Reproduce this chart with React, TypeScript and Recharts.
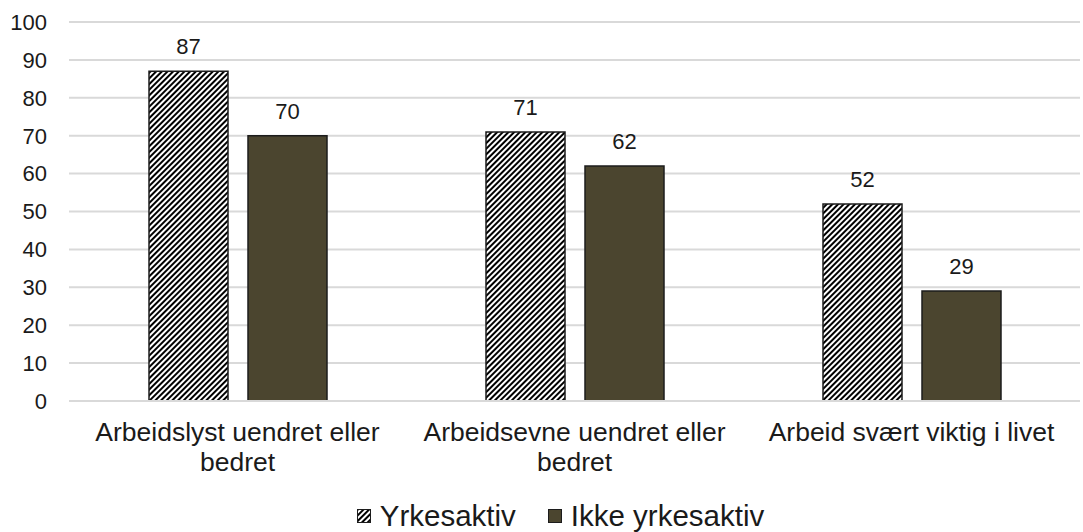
import React from "react";
import {
  BarChart,
  Bar,
  XAxis,
  YAxis,
  CartesianGrid,
  Legend,
  LabelList,
} from "recharts";

const categories = [
  "Arbeidslyst uendret eller bedret",
  "Arbeidsevne uendret eller bedret",
  "Arbeid svært viktig i livet",
];
const yrkesaktiv = [87, 71, 52];
const ikkeYrkesaktiv = [70, 62, 29];
const yTicks = [0, 10, 20, 30, 40, 50, 60, 70, 80, 90, 100];

const seriesNames = ["Yrkesaktiv", "Ikke yrkesaktiv"];

const DARK = "#4b452f";
const EDGE = "#1c1c1c";
const FONT = "'Liberation Sans', Arial, sans-serif";

const data = categories.map((c, i) => ({
  name: c,
  a: yrkesaktiv[i],
  b: ikkeYrkesaktiv[i],
}));

// greedy word wrap on character count (labels are short)
function wrap(label: string, maxChars: number) {
  const lines: string[] = [];
  let cur = "";
  for (const w of label.split(" ")) {
    const next = cur ? cur + " " + w : w;
    if (next.length > maxChars && cur) {
      lines.push(cur);
      cur = w;
    } else {
      cur = next;
    }
  }
  if (cur) lines.push(cur);
  return lines;
}

function CategoryTick(props: any) {
  const { x, y, payload } = props;
  const lines = wrap(String(payload.value), 28);
  return (
    <text
      x={x}
      y={y}
      textAnchor="middle"
      fontSize={26.5}
      fontFamily={FONT}
      fill="#1a1a1a"
    >
      {lines.map((l, i) => (
        <tspan key={i} x={x} dy={i === 0 ? 17 : 30}>
          {l}
        </tspan>
      ))}
    </text>
  );
}

function LegendContent() {
  return (
    <div
      style={{
        display: "flex",
        justifyContent: "center",
        alignItems: "center",
        paddingTop: 10,
        paddingLeft: 41,
        fontFamily: FONT,
        fontSize: 29.5,
        lineHeight: "28px",
        color: "#1a1a1a",
      }}
    >
      <span style={{ display: "flex", alignItems: "center", marginRight: 32 }}>
        <svg width={14} height={14} style={{ marginRight: 9 }}>
          <rect x={0.5} y={0.5} width={13} height={13} fill="url(#hatch)" stroke={EDGE} />
        </svg>
        {seriesNames[0]}
      </span>
      <span style={{ display: "flex", alignItems: "center" }}>
        <svg width={14} height={14} style={{ marginRight: 9 }}>
          <rect x={0.5} y={0.5} width={13} height={13} fill={DARK} stroke={EDGE} />
        </svg>
        {seriesNames[1]}
      </span>
    </div>
  );
}

export default function App() {
  return (
    <div style={{ position: "absolute", left: 0, top: 0, background: "#fff" }}>
      <BarChart
        width={1083}
        height={532}
        data={data}
        margin={{ top: 22, right: 3, left: 0, bottom: 0 }}
        barGap={20}
        barSize={79}
      >
        <defs>
          <pattern
            id="hatch"
            patternUnits="userSpaceOnUse"
            width={4}
            height={4}
            patternTransform="rotate(45)"
          >
            <rect x={0} y={0} width={4} height={4} fill="#ffffff" />
            <rect x={0} y={0} width={2} height={4} fill="#000000" />
          </pattern>
        </defs>
        <CartesianGrid vertical={false} stroke="#d9d9d9" strokeWidth={2} />
        <XAxis
          dataKey="name"
          axisLine={{ stroke: "#d9d9d9", strokeWidth: 2 }}
          tickLine={false}
          tickSize={0}
          tickMargin={23}
          height={91}
          tick={<CategoryTick />}
          interval={0}
        />
        <YAxis
          domain={[0, 100]}
          ticks={yTicks}
          width={69}
          axisLine={false}
          tickLine={false}
          tickSize={0}
          tickMargin={22}
          tick={{ fontSize: 22, fontFamily: FONT, fill: "#1a1a1a" }}
        />
        <Legend verticalAlign="bottom" height={40} content={<LegendContent />} />
        <Bar
          dataKey="a"
          name={seriesNames[0]}
          fill="url(#hatch)"
          stroke={EDGE}
          strokeWidth={1.5}
          isAnimationActive={false}
        >
          <LabelList
            dataKey="a"
            position="top"
            offset={17}
            style={{ fontSize: 22, fontFamily: FONT, fill: "#1a1a1a" }}
          />
        </Bar>
        <Bar
          dataKey="b"
          name={seriesNames[1]}
          fill={DARK}
          stroke={EDGE}
          strokeWidth={1.5}
          isAnimationActive={false}
        >
          <LabelList
            dataKey="b"
            position="top"
            offset={17}
            style={{ fontSize: 22, fontFamily: FONT, fill: "#1a1a1a" }}
          />
        </Bar>
      </BarChart>
    </div>
  );
}
